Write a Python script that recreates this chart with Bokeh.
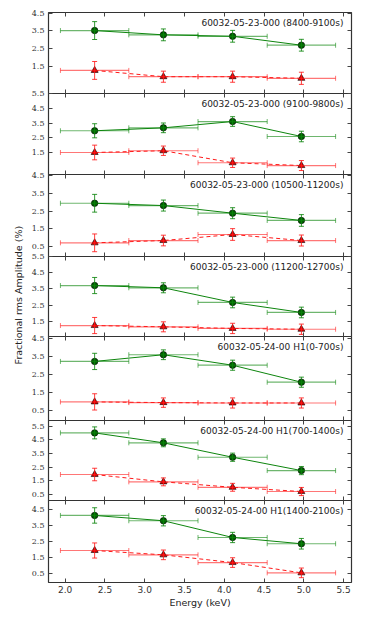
import math
from bokeh.plotting import figure
from bokeh.models import (ColumnDataSource, Whisker, TeeHead, LinearAxis,
                          FixedTicker, Range1d, Label, PrintfTickFormatter)
from bokeh.layouts import column, row
from bokeh.embed import file_html
from bokeh.resources import INLINE

# ---------------- data ----------------
energy = [2.37, 3.235, 4.105, 4.97]
energy_lo = [1.94, 2.80, 3.67, 4.54]
energy_hi = [2.80, 3.67, 4.54, 5.40]

titles = [
    "60032-05-23-000 (8400-9100s)",
    "60032-05-23-000 (9100-9800s)",
    "60032-05-23-000 (10500-11200s)",
    "60032-05-23-000 (11200-12700s)",
    "60032-05-24-00 H1(0-700s)",
    "60032-05-24-00 H1(700-1400s)",
    "60032-05-24-00 H1(1400-2100s)",
]

green_1 = [3.52, 3.28, 3.20, 2.70]
green_err_1 = [0.50, 0.33, 0.33, 0.33]
red_1 = [1.29, 0.94, 0.94, 0.85]
red_err_1 = [0.50, 0.31, 0.31, 0.34]

green_2 = [2.98, 3.18, 3.61, 2.59]
green_err_2 = [0.48, 0.33, 0.33, 0.36]
red_2 = [1.50, 1.62, 0.80, 0.61]
red_err_2 = [0.50, 0.32, 0.32, 0.34]

green_3 = [2.95, 2.82, 2.39, 1.98]
green_err_3 = [0.50, 0.31, 0.31, 0.33]
red_3 = [0.72, 0.85, 1.19, 0.85]
red_err_3 = [0.50, 0.30, 0.33, 0.31]

green_4 = [3.71, 3.57, 2.66, 2.04]
green_err_4 = [0.50, 0.31, 0.33, 0.33]
red_4 = [1.23, 1.15, 1.05, 1.00]
red_err_4 = [0.50, 0.31, 0.32, 0.32]

green_5 = [3.21, 3.58, 3.00, 2.06]
green_err_5 = [0.45, 0.27, 0.28, 0.28]
red_5 = [0.97, 0.93, 0.91, 0.91]
red_err_5 = [0.45, 0.26, 0.28, 0.28]

green_6 = [5.01, 4.28, 3.22, 2.24]
green_err_6 = [0.44, 0.29, 0.30, 0.30]
red_6 = [1.95, 1.41, 1.01, 0.70]
red_err_6 = [0.46, 0.29, 0.29, 0.30]

green_7 = [4.13, 3.80, 2.76, 2.37]
green_err_7 = [0.48, 0.32, 0.32, 0.33]
red_7 = [1.95, 1.68, 1.20, 0.56]
red_err_7 = [0.47, 0.30, 0.30, 0.30]

greens = [green_1, green_2, green_3, green_4, green_5, green_6, green_7]
green_errs = [green_err_1, green_err_2, green_err_3, green_err_4, green_err_5, green_err_6, green_err_7]
reds = [red_1, red_2, red_3, red_4, red_5, red_6, red_7]
red_errs = [red_err_1, red_err_2, red_err_3, red_err_4, red_err_5, red_err_6, red_err_7]

y_ranges = [(0.0, 4.53), (0.0, 5.52), (-0.05, 4.57), (0.55, 5.51),
            (-0.06, 4.59), (0.04, 5.92), (-0.04, 5.06)]
y_tick_sets = [
    [1.5, 2.5, 3.5, 4.5],
    [1.5, 2.5, 3.5, 4.5, 5.5],
    [0.5, 1.5, 2.5, 3.5, 4.5],
    [1.5, 2.5, 3.5, 4.5, 5.5],
    [0.5, 1.5, 2.5, 3.5, 4.5],
    [0.5, 1.5, 2.5, 3.5, 4.5, 5.5],
    [0.5, 1.5, 2.5, 3.5, 4.5],
]
x_ticks = [2.0, 2.5, 3.0, 3.5, 4.0, 4.5, 5.0, 5.5]

# ---------------- layout ----------------
frame_heights = [81, 81, 82, 80, 84, 80, 82]
FW = 303
BT = 8
BB = 8
LEFT = 20

GREEN = "#0d850d"
RED = "#ff1a1a"

panels = []
n = len(greens)
for i in range(n):
    first = i == 0
    last = i == n - 1
    p = figure(frame_width=FW, frame_height=frame_heights[i],
               x_range=Range1d(1.79, 5.6), y_range=Range1d(*y_ranges[i]),
               output_backend="svg", toolbar_location=None,
               min_border_left=LEFT, min_border_right=6,
               min_border_top=5 if first else BT,
               min_border_bottom=30 if last else BB,
               x_axis_location=None, y_axis_location=None,
               border_fill_color=None, background_fill_color="white",
               outline_line_color="#333333", outline_line_width=1.2)
    p.xgrid.visible = False
    p.ygrid.visible = False
    if not first:
        p.margin = (-(BT + BB), 0, 0, 0)

    # axes (inward ticks on all four sides)
    yl = LinearAxis(ticker=FixedTicker(ticks=y_tick_sets[i]))
    yr = LinearAxis(ticker=FixedTicker(ticks=y_tick_sets[i]))
    xb = LinearAxis(ticker=FixedTicker(ticks=x_ticks))
    xt = LinearAxis(ticker=FixedTicker(ticks=x_ticks))
    for ax in (yl, yr, xb, xt):
        ax.major_tick_in = 4
        ax.major_tick_out = 0
        ax.minor_tick_in = 0
        ax.minor_tick_out = 0
        ax.axis_line_color = None
        ax.major_tick_line_color = "#444444"
    yl.major_label_text_font = "DejaVu Serif"
    yl.major_label_text_font_size = "8px"
    yl.major_label_text_color = "#333333"
    yl.major_label_standoff = 4
    hidden = [yr, xt]
    if last:
        xb.formatter = PrintfTickFormatter(format="%.1f")
        xb.major_label_text_font = "DejaVu Sans"
        xb.major_label_text_font_size = "9px"
        xb.major_label_text_color = "#333333"
        xb.major_label_standoff = 3
        xb.axis_label = "Energy (keV)"
        xb.axis_label_text_font = "DejaVu Sans"
        xb.axis_label_text_font_size = "9.5px"
        xb.axis_label_text_font_style = "normal"
        xb.axis_label_text_color = "#222222"
        xb.axis_label_standoff = 1
    else:
        hidden.append(xb)
    for ax in hidden:
        ticks = ax.ticker.ticks
        ax.major_label_overrides = {t: "" for t in ticks}
        ax.major_label_text_font_size = "1px"
        ax.major_label_standoff = 0
    p.add_layout(yl, "left")
    p.add_layout(yr, "right")
    p.add_layout(xb, "below")
    p.add_layout(xt, "above")

    g = greens[i]
    ge = green_errs[i]
    r = reds[i]
    re_ = red_errs[i]
    src = ColumnDataSource(dict(
        x=energy, xl=energy_lo, xh=energy_hi,
        g=g, gl=[a - b for a, b in zip(g, ge)], gu=[a + b for a, b in zip(g, ge)],
        r=r, rl=[a - b for a, b in zip(r, re_)], ru=[a + b for a, b in zip(r, re_)],
    ))

    def add_whiskers(col, lo, hi, color):
        wv = Whisker(source=src, base="x", lower=lo, upper=hi, dimension="height",
                     line_color=color, line_alpha=0.85, line_width=1,
                     upper_head=TeeHead(size=5, line_color=color, line_alpha=0.85),
                     lower_head=TeeHead(size=5, line_color=color, line_alpha=0.85),
                     level="glyph")
        wh = Whisker(source=src, base=col, lower="xl", upper="xh", dimension="width",
                     line_color=color, line_alpha=0.6, line_width=1.2,
                     upper_head=TeeHead(size=5, line_color=color, line_alpha=0.6),
                     lower_head=TeeHead(size=5, line_color=color, line_alpha=0.6),
                     level="glyph")
        p.add_layout(wv)
        p.add_layout(wh)

    add_whiskers("g", "gl", "gu", GREEN)
    add_whiskers("r", "rl", "ru", RED)

    p.line("x", "g", source=src, line_color=GREEN, line_width=1)
    p.line("x", "r", source=src, line_color=RED, line_width=1, line_dash="4 3")
    p.scatter("x", "g", source=src, marker="circle", size=6.5,
              fill_color="#006400", line_color="black", line_width=0.6)
    p.scatter("x", "r", source=src, marker="triangle", size=7,
              fill_color="#dd0000", line_color="black", line_width=0.6)

    p.add_layout(Label(x=FW - 8, y=frame_heights[i] - 10, x_units="screen", y_units="screen",
                       text=titles[i], text_align="right", text_baseline="middle",
                       text_font="DejaVu Sans", text_font_size="9px", text_color="#222222"))
    panels.append(p)

# y-axis label figure
lab = figure(width=21, height=575, output_backend="svg", toolbar_location=None,
             x_range=Range1d(0, 1), y_range=Range1d(0, 1),
             min_border=0, x_axis_location=None, y_axis_location=None,
             outline_line_color=None, border_fill_color=None)
lab.xgrid.visible = False
lab.ygrid.visible = False
lab.add_layout(Label(x=0.52, y=0.505, text="Fractional  rms  Amplitude (%)",
                     angle=math.pi / 2, text_align="center", text_baseline="middle",
                     text_font="DejaVu Sans", text_font_size="9.5px", text_color="#222222"))

layout = row(lab, column(*panels, spacing=0), spacing=0, margin=(7, 0, 0, 7))
open("out.html", "w").write(file_html(layout, INLINE))
